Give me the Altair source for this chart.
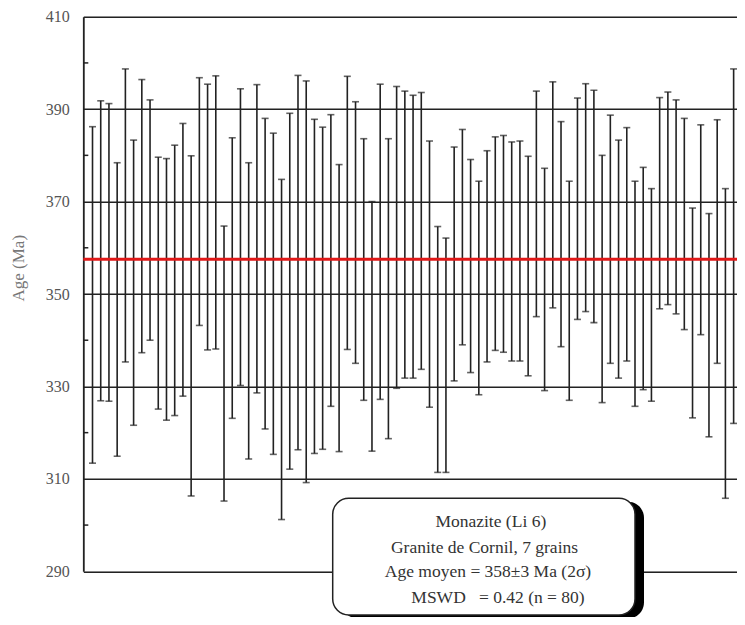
import altair as alt
import pandas as pd

# ---- data ----
idx = list(range(1, 81))
high = [
    386.2, 391.8, 391.2, 378.4, 398.7, 383.3, 396.4, 392.0, 379.6, 379.3,
    382.2, 386.9, 379.9, 396.8, 395.4, 397.2, 364.7, 383.8, 394.4, 378.4,
    395.3, 388.0, 384.8, 374.8, 389.1, 397.3, 396.1, 387.8, 386.1, 388.8,
    378.0, 397.1, 391.6, 383.6, 370.0, 395.4, 383.6, 394.9, 393.9, 393.0,
    393.6, 383.1, 364.6, 362.1, 381.8, 385.6, 379.1, 374.4, 381.0, 384.0,
    384.3, 382.9, 383.1, 379.8, 393.9, 377.2, 395.9, 387.3, 374.4, 392.4,
    395.5, 394.1, 380.0, 388.7, 383.3, 386.0, 374.4, 377.4, 372.8, 392.5,
    393.7, 392.0, 388.0, 368.6, 386.6, 367.4, 387.7, 372.8, 398.7, 384.8,
]
low = [
    313.4, 326.9, 326.8, 314.9, 335.3, 321.6, 337.3, 340.0, 325.1, 322.7,
    323.7, 327.9, 306.3, 343.2, 337.9, 338.1, 305.2, 323.1, 330.2, 314.3,
    328.6, 320.8, 315.3, 301.2, 312.1, 316.3, 309.2, 315.5, 316.4, 325.7,
    315.9, 338.0, 335.0, 327.0, 316.0, 327.2, 318.7, 329.6, 331.8, 331.8,
    333.7, 325.5, 311.4, 311.4, 331.2, 339.0, 333.0, 328.2, 335.3, 337.8,
    337.4, 335.5, 335.5, 332.3, 345.1, 329.1, 347.0, 338.6, 327.0, 344.5,
    346.2, 343.8, 326.5, 335.0, 331.8, 335.5, 325.7, 329.3, 326.8, 346.8,
    347.7, 345.7, 342.3, 323.2, 341.2, 319.1, 335.0, 305.8, 322.0, 304.3,
]
mean_age = [357.5]
major_ticks = [290, 310, 330, 350, 370, 390, 410]
minor_ticks = [300, 320, 340, 360, 380, 400]
NB = "\u00a0"
box_lines = [
    "Monazite (Li 6)",
    "Granite de Cornil, 7 grains",
    "Age moyen = 358\u00b13 Ma (2\u03c3)",
    "MSWD" + NB * 3 + "= 0.42 (n = 80)",
]

# ---- layout ----
PAD_L = 75.3
W = 729 - PAD_L
H = 554.6
SERIF = "Liberation Serif"
INK = "#222222"

df = pd.DataFrame({"i": idx, "low": low, "high": high})

xs = alt.Scale(domain=[-0.12, 79.41], nice=False, zero=False)
ys = alt.Scale(domain=[290, 410], nice=False, zero=False)

base = alt.Chart(df)

yaxis = alt.Axis(
    values=major_ticks, title="Age (Ma)", ticks=False, labelPadding=14,
    labelFont=SERIF, labelFontSize=16, labelColor="#555555",
    titleFont=SERIF, titleFontSize=17, titleColor="#777777", titleFontWeight="normal",
    titleX=-65, titleY=251, titleAngle=270, titleAlign="center", titleBaseline="middle",
    grid=True, gridColor=INK, gridWidth=1.5, gridOpacity=1,
    domain=True, domainColor=INK, domainWidth=1.8, zindex=0,
)

stems = base.mark_rule(color=INK, strokeWidth=1.6).encode(
    x=alt.X("i:Q", scale=xs, axis=None),
    y=alt.Y("low:Q", scale=ys, axis=yaxis),
    y2="high:Q",
)
cap_hi = base.mark_tick(color=INK, orient="horizontal", size=7, thickness=1.6).encode(
    x=alt.X("i:Q", scale=xs), y=alt.Y("high:Q", scale=ys)
)
cap_lo = base.mark_tick(color=INK, orient="horizontal", size=7, thickness=1.6).encode(
    x=alt.X("i:Q", scale=xs), y=alt.Y("low:Q", scale=ys)
)

minor = alt.Chart(pd.DataFrame({"v": minor_ticks})).mark_rule(
    color=INK, strokeWidth=1.5
).encode(x=alt.value(0), x2=alt.value(5), y=alt.Y("v:Q", scale=ys))

red = alt.Chart(pd.DataFrame({"m": mean_age})).mark_rule(
    color="#e01818", strokeWidth=3
).encode(x=alt.value(0), x2=alt.value(W), y=alt.Y("m:Q", scale=ys))

one = pd.DataFrame({"a": [0]})
bx0, bx1, by0, by1 = 249.4, 551.7, 481.6, 598.3
shadow = alt.Chart(one).mark_rect(color="black", cornerRadius=16).encode(
    x=alt.value(bx0 + 9), x2=alt.value(bx1 + 9),
    y=alt.value(by0 + 3.5), y2=alt.value(by1 + 3.5),
)
box = alt.Chart(one).mark_rect(
    fill="white", stroke=INK, strokeWidth=1.5, cornerRadius=16
).encode(x=alt.value(bx0), x2=alt.value(bx1), y=alt.value(by0), y2=alt.value(by1))

line_x = [407.5, 401.2, 404.7, 414.7]
line_y = [510.6, 536.6, 560.6, 586.6]
tdf = pd.DataFrame({"t": box_lines, "px": line_x, "py": line_y})
texts = alt.Chart(tdf).mark_text(
    font=SERIF, fontSize=17.5, color="#333333", align="center", baseline="alphabetic"
).encode(
    x=alt.X("px:Q", scale=None), y=alt.Y("py:Q", scale=None), text="t:N"
)

chart = alt.layer(stems, cap_hi, cap_lo, minor, red, shadow, box, texts).properties(
    width=W, height=H,
    autosize=alt.AutoSizeParams(type="none"),
    padding={"left": PAD_L, "top": 8.7, "right": 0, "bottom": 45.7},
).configure_view(stroke=None).configure(background="white")

chart.save("out.html", embed_options={"renderer": "svg", "actions": False})
